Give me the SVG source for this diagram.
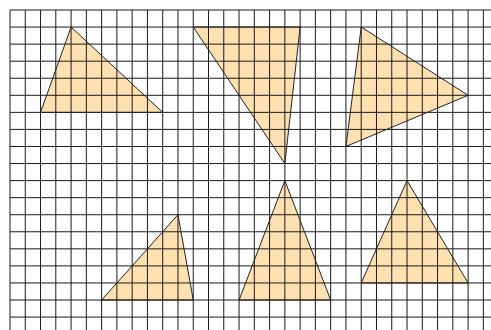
<svg xmlns="http://www.w3.org/2000/svg" width="491" height="330" viewBox="0 0 491 330">
<style>
.tri{fill:#FFE0B0;stroke:none}
.edge{fill:none;stroke:#222;stroke-width:1;stroke-linejoin:round}
.grid{fill:none;stroke:#1a1a1a;stroke-width:1}
</style>
<defs>
<polygon id="p1" points="71.08,27.06 40.54,112.36 162.7,112.36"/>
<polygon id="p2" points="193.24,27.06 300.13,27.06 284.86,163.54"/>
<polygon id="p3" points="361.21,27.06 468.1,95.3 345.94,146.48"/>
<polygon id="p4" points="177.97,214.72 101.62,300.02 193.24,300.02"/>
<polygon id="p5" points="284.86,180.6 239.05,300.02 330.67,300.02"/>
<polygon id="p6" points="407.02,180.6 361.21,282.96 468.1,282.96"/>
</defs>
<rect width="491" height="330" fill="#fff"/>
<g id="fills">
<use href="#p1" class="tri"/><use href="#p2" class="tri"/><use href="#p3" class="tri"/>
<use href="#p4" class="tri"/><use href="#p5" class="tri"/><use href="#p6" class="tri"/>
</g>
<g id="grid">
<path class="grid" d="M10 10V330M25.27 10V330M40.54 10V330M55.81 10V330M71.08 10V330M86.35 10V330M101.62 10V330M116.89 10V330M132.16 10V330M147.43 10V330M162.7 10V330M177.97 10V330M193.24 10V330M208.51 10V330M223.78 10V330M239.05 10V330M254.32 10V330M269.59 10V330M284.86 10V330M300.13 10V330M315.4 10V330M330.67 10V330M345.94 10V330M361.21 10V330M376.48 10V330M391.75 10V330M407.02 10V330M422.29 10V330M437.56 10V330M452.83 10V330M468.1 10V330M483.37 10V330M10 10H491M10 27.06H491M10 44.12H491M10 61.18H491M10 78.24H491M10 95.3H491M10 112.36H491M10 129.42H491M10 146.48H491M10 163.54H491M10 180.6H491M10 197.66H491M10 214.72H491M10 231.78H491M10 248.84H491M10 265.9H491M10 282.96H491M10 300.02H491M10 317.08H491"/>
</g>
<g id="triangle1"><use href="#p1" class="edge"/></g>
<g id="triangle2"><use href="#p2" class="edge"/></g>
<g id="triangle3"><use href="#p3" class="edge"/></g>
<g id="triangle4"><use href="#p4" class="edge"/></g>
<g id="triangle5"><use href="#p5" class="edge"/></g>
<g id="triangle6"><use href="#p6" class="edge"/></g>
</svg>
